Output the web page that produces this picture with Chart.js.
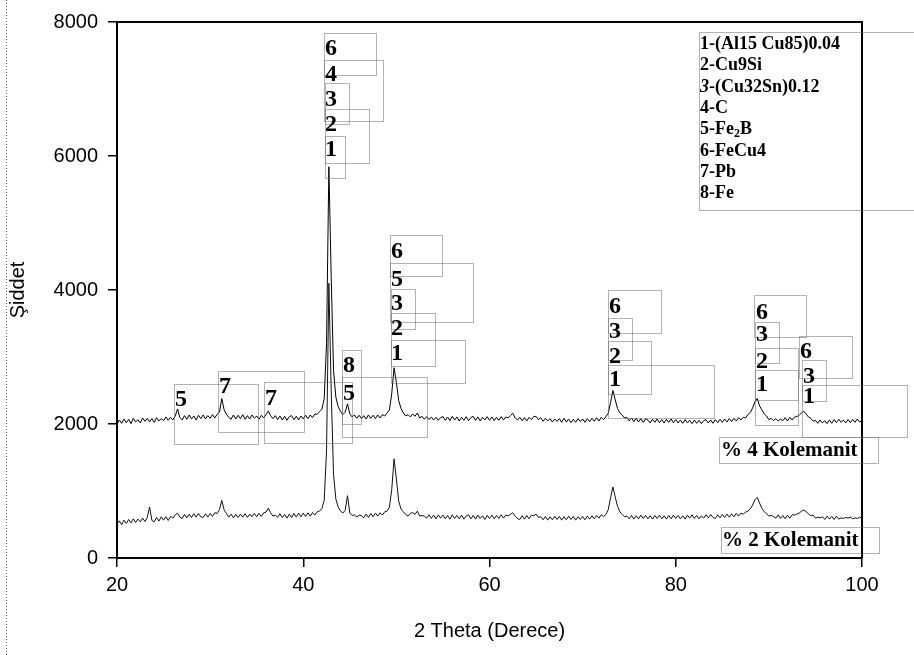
<!DOCTYPE html>
<html>
<head>
<meta charset="utf-8">
<script src="https://cdn.jsdelivr.net/npm/chart.js@4.4.1/dist/chart.umd.min.js"></script>
<style>
html,body{margin:0;padding:0;background:#fff;}
</style>
</head>
<body>
<canvas id="grafico" width="914" height="655"></canvas>
<script>
// 2 theta: 20 -> 100, adim 0.25 derece
const aciBaslangic = 20;
const adim = 0.25;

const kolemanit4 = [
  1995,2060,2010,2075,2020,2070,2005,2085,2030,2065,2015,2090,2040,2085,2030,2080,2025,2095,2045,2080,
  2050,2105,2055,2100,2060,2120,2225,2095,2060,2125,2070,2135,2075,2120,2060,2130,2080,2135,2075,2125,
  2085,2140,2090,2145,2175,2380,2215,2145,2100,2070,2135,2075,2130,2080,2140,2070,2125,2075,2135,2085,
  2120,2070,2130,2090,2140,2195,2125,2080,2125,2065,2120,2060,2115,2055,2110,2125,2065,2115,2060,2120,
  2075,2130,2080,2135,2095,2150,2145,2185,2220,2380,3200,5840,4200,2800,2400,2260,2190,2140,2175,2300,
  2150,2105,2135,2085,2130,2080,2125,2075,2135,2085,2130,2080,2135,2090,2140,2120,2165,2210,2450,2840,
  2620,2350,2230,2165,2120,2140,2105,2150,2115,2165,2090,2115,2070,2110,2065,2105,2060,2100,2055,2095,
  2110,2055,2105,2050,2115,2060,2105,2045,2100,2055,2110,2050,2095,2115,2055,2105,2045,2100,2060,2110,
  2055,2105,2050,2100,2055,2110,2060,2105,2090,2125,2160,2090,2060,2100,2050,2095,2045,2100,2065,2110,
  2115,2065,2095,2040,2085,2045,2080,2030,2075,2040,2080,2025,2085,2030,2075,2020,2070,2025,2080,2035,
  2075,2025,2080,2035,2085,2040,2095,2045,2100,2065,2110,2160,2320,2500,2360,2230,2165,2135,2090,2100,
  2045,2090,2035,2085,2030,2080,2025,2075,2060,2015,2070,2025,2075,2020,2065,2015,2070,2025,2075,2020,
  2065,2015,2060,2010,2065,2015,2055,2005,2060,2010,2055,2005,2050,2065,2015,2060,2010,2065,2020,2070,
  2025,2075,2030,2080,2035,2085,2045,2095,2060,2100,2090,2140,2170,2240,2330,2380,2270,2210,2150,2120,
  2065,2085,2050,2080,2045,2075,2050,2095,2045,2100,2060,2105,2110,2130,2165,2190,2150,2105,2085,2040,
  2055,2010,2060,2015,2050,2005,2060,2010,2065,2020,2070,2025,2060,2015,2065,2020,2070,2025,2075,2030,
  2055
];

const kolemanit2 = [
  505,555,495,565,515,575,525,585,530,580,540,595,545,605,760,560,540,605,550,615,
  565,615,560,620,595,645,670,610,590,650,600,655,605,660,610,665,615,605,660,610,
  665,620,675,665,720,860,720,665,610,655,600,650,605,655,610,660,605,655,615,665,
  615,665,620,675,685,745,675,625,640,610,660,605,650,595,655,605,665,610,670,615,
  670,620,675,625,680,640,690,700,740,860,1600,4100,2500,1250,880,760,700,670,710,930,
  670,635,645,610,640,630,600,655,605,665,615,670,625,675,640,690,700,760,1020,1480,
  1180,850,730,690,650,625,665,680,650,700,625,635,625,595,645,590,640,585,645,595,
  640,585,635,580,645,590,635,585,640,580,630,645,585,635,580,640,590,630,575,635,
  590,640,585,635,590,645,595,640,630,650,675,625,590,575,630,580,635,585,640,630,
  655,605,615,570,620,565,615,570,625,575,620,565,615,570,625,575,620,565,615,575,
  620,570,625,580,630,585,635,595,645,620,650,720,900,1060,910,770,690,650,615,625,
  585,635,580,630,585,640,590,635,585,630,580,635,590,640,585,630,580,635,585,640,
  590,635,585,630,580,640,595,645,590,635,585,630,595,645,600,650,605,590,645,600,
  650,605,655,610,660,615,665,625,670,655,685,700,730,790,870,905,820,740,690,660,
  625,635,620,595,645,590,635,585,640,595,645,640,655,670,700,715,690,660,630,640,
  595,610,600,615,575,625,580,620,575,625,580,600,590,605,595,610,585,600,590,610,
  585
];

const fazlar = ["1-(Al15 Cu85)0.04", "2-Cu9Si", "3-(Cu32Sn)0.12", "4-C", "5-Fe2B", "6-FeCu4", "7-Pb", "8-Fe"];

// metin kutulari: [metin, x, y(orta), kutu sol, ust, sag, alt]
const etiketler = [
  ["6", 325, 47, 324, 33, 376, 75],
  ["4", 325, 73, 324, 60, 383, 121],
  ["3", 325, 98, 325, 83, 349, 124],
  ["2", 325, 123, 325, 109, 369, 163],
  ["1", 325, 148, 325, 136, 345, 178],
  ["6", 391, 250, 390, 235, 442, 276],
  ["5", 391, 278, 390, 263, 473, 322],
  ["3", 391, 302, 391, 289, 415, 329],
  ["2", 391, 327, 391, 313, 435, 366],
  ["1", 391, 352, 391, 340, 465, 383],
  ["5", 175, 398, 174, 384, 258, 444],
  ["7", 219, 385, 218, 371, 304, 432],
  ["7", 265, 397, 264, 382, 352, 443],
  ["8", 343, 364, 342, 350, 361, 424],
  ["5", 343, 392, 342, 377, 427, 437],
  ["6", 609, 305, 608, 290, 661, 333],
  ["3", 609, 330, 608, 318, 632, 360],
  ["2", 609, 355, 608, 341, 651, 394],
  ["1", 609, 378, 608, 365, 714, 418],
  ["6", 756, 311, 754, 295, 806, 337],
  ["3", 756, 333, 755, 322, 779, 363],
  ["2", 756, 360, 755, 348, 798, 400],
  ["1", 756, 383, 755, 370, 798, 425],
  ["6", 800, 350, 799, 336, 852, 378],
  ["3", 803, 375, 802, 360, 826, 401],
  ["1", 803, 395, 802, 385, 907, 437]
];
const numuneler = [
  ["% 4 Kolemanit", 721, 449, 719, 437, 878, 463],
  ["% 2 Kolemanit", 722, 539, 721, 527, 879, 553]
];

const puntos = (arr) => arr.map((v, i) => ({ x: aciBaslangic + i * adim, y: v }));

const cuadro = {
  id: "cuadro",
  afterDraw(chart) {
    const ctx = chart.ctx;
    const a = chart.chartArea;
    ctx.save();
    // ust ve sag cerceve
    ctx.strokeStyle = "#000";
    ctx.lineWidth = 2;
    ctx.beginPath();
    ctx.moveTo(a.left, a.top);
    ctx.lineTo(a.right, a.top);
    ctx.lineTo(a.right, a.bottom);
    ctx.stroke();
    // sayfa kenari
    ctx.lineWidth = 1;
    ctx.strokeStyle = "#555";
    ctx.setLineDash([1, 2]);
    ctx.beginPath();
    ctx.moveTo(6.5, 0);
    ctx.lineTo(6.5, 655);
    ctx.stroke();
    // kutular
    ctx.strokeStyle = "#666";
    ctx.setLineDash([1, 1]);
    etiketler.concat(numuneler).forEach(e => ctx.strokeRect(e[3] + 0.5, e[4] + 0.5, e[5] - e[3], e[6] - e[4]));
    ctx.strokeRect(699.5, 32.5, 240, 178);
    ctx.setLineDash([]);
    // etiket metinleri
    ctx.fillStyle = "#000";
    ctx.textBaseline = "alphabetic";
    ctx.font = 'bold 24px "Liberation Serif"';
    etiketler.forEach(e => ctx.fillText(e[0], e[1], e[2] + 8));
    ctx.font = 'bold 21px "Liberation Serif"';
    numuneler.forEach(e => ctx.fillText(e[0], e[1], e[2] + 7));
    // faz listesi
    const f18 = 'bold 18px "Liberation Serif"';
    fazlar.forEach((f, i) => {
      const y = 43 + i * 21.3 + 6;
      let x = 700;
      if (i === 2) {
        ctx.font = 'italic bold 18px "Liberation Serif"';
        ctx.fillText(f[0], x, y);
        x += ctx.measureText(f[0]).width;
        ctx.font = f18;
        ctx.fillText(f.slice(1), x, y);
      } else if (i === 4) {
        ctx.font = f18;
        ctx.fillText("5-Fe", x, y);
        x += ctx.measureText("5-Fe").width;
        ctx.font = 'bold 12px "Liberation Serif"';
        ctx.fillText("2", x, y + 3);
        x += ctx.measureText("2").width;
        ctx.font = f18;
        ctx.fillText("B", x, y);
      } else {
        ctx.font = f18;
        ctx.fillText(f, x, y);
      }
    });
    ctx.restore();
  }
};

const yazi = { family: "Liberation Sans", size: 20 };

const graf = new Chart(document.querySelector("#grafico"), {
  type: "line",
  data: {
    datasets: [
      { label: "% 4 Kolemanit", data: puntos(kolemanit4), borderColor: "#000", borderWidth: 1, pointRadius: 0, tension: 0 },
      { label: "% 2 Kolemanit", data: puntos(kolemanit2), borderColor: "#111", borderWidth: 1, pointRadius: 0, tension: 0 }
    ]
  },
  options: {
    responsive: false,
    animation: false,
    layout: { padding: { top: 20, right: 52, left: 0, bottom: 0 } },
    plugins: { legend: { display: false }, tooltip: { enabled: false } },
    scales: {
      x: {
        type: "linear", min: 20, max: 100,
        ticks: { stepSize: 20, color: "#000", font: yazi, padding: 6, maxRotation: 0, callback: v => String(v) },
        grid: { drawOnChartArea: false, tickLength: 9, color: "#000", lineWidth: 1.5 },
        border: { color: "#000", width: 2 },
        title: { display: true, text: "2 Theta (Derece)", color: "#000", font: yazi, padding: { top: 0, bottom: 12 } },
        afterFit(s) { s.height = 97; }
      },
      y: {
        min: 0, max: 8000,
        ticks: { stepSize: 2000, color: "#000", font: yazi, padding: 10, callback: v => String(v) },
        grid: { drawOnChartArea: false, tickLength: 9, color: "#000", lineWidth: 1.5 },
        border: { color: "#000", width: 2 },
        title: { display: true, text: "Şiddet", color: "#000", font: yazi, padding: { top: 6, bottom: 0 } },
        afterFit(s) { s.width = 117; }
      }
    }
  },
  plugins: [cuadro]
});
</script>
</body>
</html>
